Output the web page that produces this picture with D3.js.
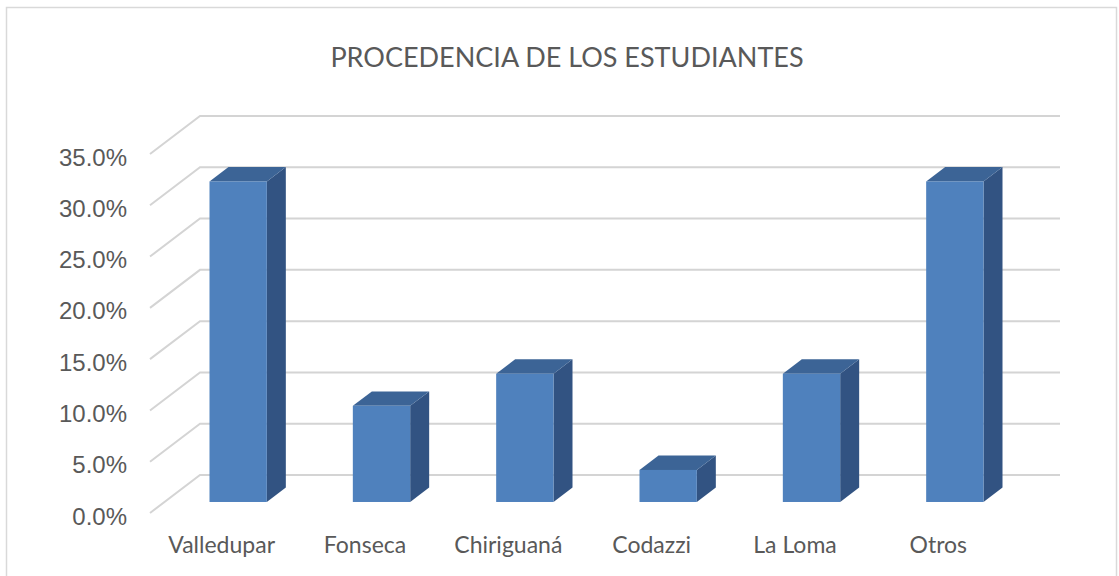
<!DOCTYPE html>
<html>
<head>
<meta charset="utf-8">
<script src="https://cdn.jsdelivr.net/npm/d3@7"></script>
<style>
  html, body { margin: 0; padding: 0; background: #fff; }
  svg { display: block; }
</style>
</head>
<body>
<svg id="chart" width="1119" height="576"></svg>
<script>
const categories = ["Valledupar", "Fonseca", "Chiriguaná", "Codazzi", "La Loma", "Otros"];
const values = [31.25, 9.375, 12.5, 3.125, 12.5, 31.25];
const yTicks = [0, 5, 10, 15, 20, 25, 30, 35];
const title = "PROCEDENCIA DE LOS ESTUDIANTES";

const svg = d3.select("#chart");

// chart border
svg.append("rect")
  .attr("x", 6.5).attr("y", 7.5).attr("width", 1110).attr("height", 580)
  .attr("fill", "none").attr("stroke", "#d9d9d9").attr("stroke-width", 1.5);

// geometry
const frontLeft = 150, frontRight = 1010;
const depth = { dx: 50, dy: -38 };
const f0 = 0.29, f1 = 0.67;

const x = d3.scaleBand().domain(categories).range([frontLeft, frontRight]).paddingInner(0).paddingOuter(0);
const y = d3.scaleLinear().domain([0, 35]).range([513, 154]);
const barW = x.bandwidth() * 0.4;

// gridlines
const grid = svg.append("g");
yTicks.forEach(t => {
  const yf = y(t);
  grid.append("polyline")
    .attr("points", [
      [frontLeft, yf],
      [frontLeft + depth.dx, yf + depth.dy],
      [frontRight + depth.dx, yf + depth.dy]
    ].map(p => p.join(",")).join(" "))
    .attr("fill", "none")
    .attr("stroke", "#d4d4d4")
    .attr("stroke-width", 2);
});

// y labels
svg.append("g").selectAll("text").data(yTicks).join("text")
  .attr("x", 127)
  .attr("y", d => y(d) + 3)
  .attr("text-anchor", "end")
  .attr("dominant-baseline", "central")
  .attr("font-family", "'Liberation Sans', Arial, sans-serif")
  .attr("font-size", 24)
  .attr("fill", "#595959")
  .text(d => d.toFixed(1) + "%");

// bars
const bars = svg.append("g");
categories.forEach((c, i) => {
  const v = values[i];
  const cx = x(c) + x.bandwidth() / 2;
  const ox = f0 * depth.dx + 2, oy = f0 * depth.dy;
  const ddx = (f1 - f0) * depth.dx, ddy = (f1 - f0) * depth.dy;
  const xl = cx - barW / 2 + ox, xr = cx + barW / 2 + ox;
  const yb = y(0) + oy, yt = y(v) + oy;
  bars.append("polygon")
    .attr("points", [[xr, yb], [xr, yt], [xr + ddx, yt + ddy], [xr + ddx, yb + ddy]].map(p => p.join(",")).join(" "))
    .attr("fill", "#325382");
  bars.append("polygon")
    .attr("points", [[xl, yt], [xr, yt], [xr + ddx, yt + ddy], [xl + ddx, yt + ddy]].map(p => p.join(",")).join(" "))
    .attr("fill", "#3c6496");
  bars.append("rect")
    .attr("x", xl).attr("y", yt).attr("width", barW).attr("height", yb - yt)
    .attr("fill", "#4f81bd");
});

// category labels
svg.append("g").selectAll("text").data(categories).join("text")
  .attr("x", d => x(d) + x.bandwidth() / 2)
  .attr("y", 553)
  .attr("text-anchor", "middle")
  .attr("font-family", "Lato, 'Open Sans', sans-serif")
  .attr("font-size", 23)
  .attr("fill", "#595959")
  .text(d => d);

// title
svg.append("text")
  .attr("x", 567).attr("y", 66.5)
  .attr("text-anchor", "middle")
  .attr("font-family", "Lato, 'Open Sans', sans-serif")
  .attr("font-size", 27)
  .attr("fill", "#595959")
  .text(title);
</script>
</body>
</html>
